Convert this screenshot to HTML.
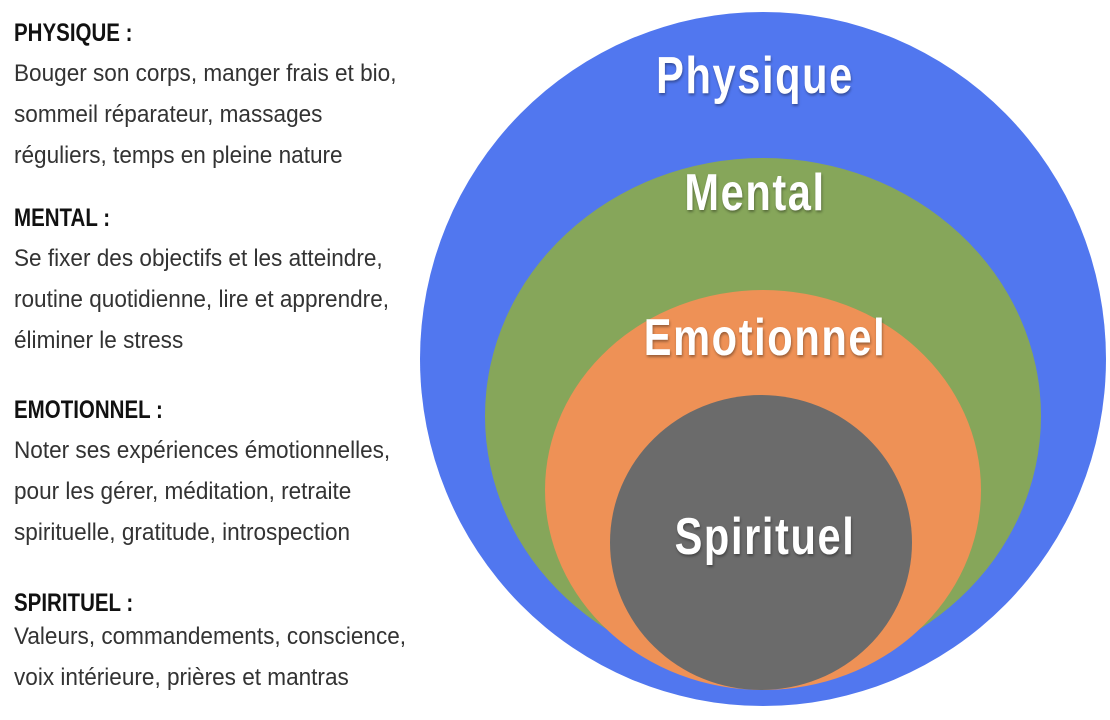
<!DOCTYPE html>
<html><head><meta charset="utf-8"><style>
html,body{margin:0;padding:0;background:#fff;width:1110px;height:720px;overflow:hidden;position:relative;font-family:"Liberation Sans",sans-serif;}
.t{position:absolute;left:14px;transform-origin:0 0;white-space:nowrap;color:#333;}
.h{font-weight:bold;font-size:25px;color:#111;transform:scaleX(0.82);}
.b{font-size:24px;line-height:41px;transform:scaleX(0.94);}
.c{position:absolute;border-radius:50%;}
.l{position:absolute;left:0;width:1110px;text-align:center;color:#fff;font-weight:bold;transform-origin:50% 50%;text-shadow:1px 2px 3px rgba(0,0,0,.35);letter-spacing:2px;}
</style></head><body>
<div class="t h" style="top:19px">PHYSIQUE :</div>
<div class="t b" style="top:53px">Bouger son corps, manger frais et bio,<br>sommeil réparateur, massages<br>réguliers, temps en pleine nature</div>
<div class="t h" style="top:204px">MENTAL :</div>
<div class="t b" style="top:238px">Se fixer des objectifs et les atteindre,<br>routine quotidienne, lire et apprendre,<br>éliminer le stress</div>
<div class="t h" style="top:396px">EMOTIONNEL :</div>
<div class="t b" style="top:430px">Noter ses expériences émotionnelles,<br>pour les gérer, méditation, retraite<br>spirituelle, gratitude, introspection</div>
<div class="t h" style="top:589px">SPIRITUEL :</div>
<div class="t b" style="top:616px">Valeurs, commandements, conscience,<br>voix intérieure, prières et mantras</div>

<div class="c" style="left:420px;top:12px;width:686px;height:694px;background:#5177ef"></div>
<div class="c" style="left:485px;top:158px;width:556px;height:516px;background:#86a65a"></div>
<div class="c" style="left:545px;top:290px;width:436px;height:400px;background:#ee9156"></div>
<div class="c" style="left:610px;top:395px;width:302px;height:295px;background:#6b6b6b"></div>

<div class="l" style="top:46px;font-size:52px;transform:translateX(200px) scaleX(0.8)">Physique</div>
<div class="l" style="top:163px;font-size:52px;transform:translateX(200px) scaleX(0.8)">Mental</div>
<div class="l" style="top:308px;font-size:52px;transform:translateX(210px) scaleX(0.8)">Emotionnel</div>
<div class="l" style="top:507px;font-size:52px;transform:translateX(210px) scaleX(0.8)">Spirituel</div>
</body></html>
